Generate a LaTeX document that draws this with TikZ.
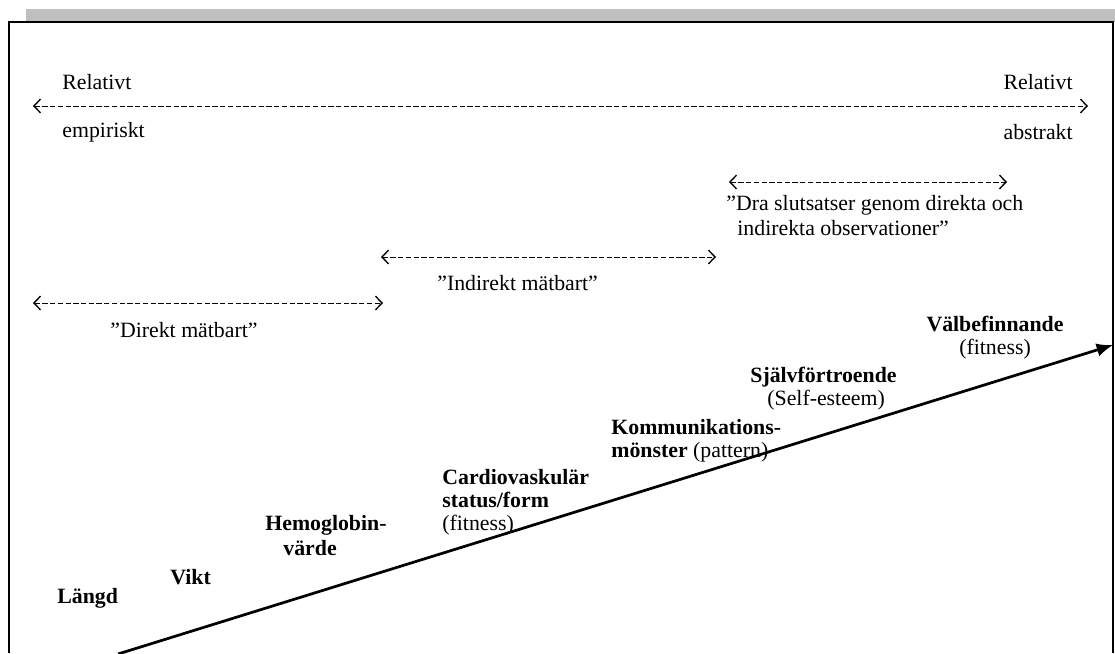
\documentclass[tikz,border=0pt]{standalone}
\usepackage{fontspec}
\setmainfont{Liberation Serif}
\usetikzlibrary{arrows.meta}
\tikzset{
  lbl/.style={inner sep=0pt, font=\fontsize{12}{12.65}\selectfont},
  blbl/.style={lbl, font=\fontsize{12}{12.65}\selectfont\bfseries},
  dasharrow/.style={line width=0.5pt, dash pattern=on 2.9pt off 1.35pt,
    {Straight Barb[length=3.6pt,width=7.5pt,line width=0.75pt]}-{Straight Barb[length=3.6pt,width=7.5pt,line width=0.75pt]}},
  mainarrow/.style={line width=1.5pt, -{Latex[length=9pt,width=7.5pt]}},
  frameline/.style={line width=1.1pt}
}
\begin{document}
\begin{tikzpicture}[x=0.55pt,y=-0.55pt]
\useasboundingbox (0,0) rectangle (1115,653);
% gray band and frame
\fill[gray!50] (26,9) rectangle (1115,22);
\coordinate (f1) at (9,653);
\coordinate (f2) at (9,22);
\coordinate (f3) at (1113,22);
\coordinate (f4) at (1113,653);
\draw[frameline] (f1) -- (f2) -- (f3) -- (f4);

% top scale
\node[lbl, anchor=west] (rel1) at (62,82) {Relativt};
\node[lbl, anchor=west] (emp) at (62,132) {empiriskt};
\node[lbl, anchor=east] (rel2) at (1073,82) {Relativt};
\node[lbl, anchor=east] (abs) at (1073,132) {abstrakt};
\coordinate (t1) at (33,106);
\coordinate (t2) at (1088,106);
\draw[dasharrow] (t1) -- (t2);

% Dra slutsatser
\coordinate (d1) at (729,182);
\coordinate (d2) at (1007,182);
\draw[dasharrow] (d1) -- (d2);
\node[lbl, anchor=west] (dra1) at (726,205) {”Dra slutsatser genom direkta och};
\node[lbl, anchor=west] (dra2) at (737,228) {indirekta observationer”};

% Indirekt
\coordinate (i1) at (381,257);
\coordinate (i2) at (716,257);
\draw[dasharrow] (i1) -- (i2);
\node[lbl, anchor=west] (ind) at (437,283) {”Indirekt mätbart”};

% Direkt
\coordinate (r1) at (33,303);
\coordinate (r2) at (383,303);
\draw[dasharrow] (r1) -- (r2);
\node[lbl, anchor=west] (dir) at (110,330) {”Direkt mätbart”};

% main arrow
\coordinate (m1) at (118,654);
\coordinate (m2) at (1113,345);
\draw[mainarrow] (m1) -- (m2);

% items
\node[blbl, anchor=west] (langd) at (57,598) {Längd};
\node[blbl, anchor=west] (vikt) at (170,577) {Vikt};
\node[blbl, anchor=west] (hemo1) at (265,525) {Hemoglobin-};
\node[blbl, anchor=west] (hemo2) at (283,548) {värde};
\node[lbl, align=left, anchor=north west] (cardio) at (442,469) {\textbf{Cardiovaskulär}\\\textbf{status/form}\\(fitness)};
\node[lbl, align=left, anchor=north west] (komm) at (611,419) {\textbf{Kommunikations-}\\\textbf{mönster} (pattern)};
\node[blbl, anchor=west] (sjalv) at (750,377) {Självförtroende};
\node[lbl, anchor=west] (self) at (767,400) {(Self-esteem)};
\node[lbl, align=center] (valb) at (995,338) {\textbf{Välbefinnande}\\(fitness)};
\end{tikzpicture}
\end{document}
